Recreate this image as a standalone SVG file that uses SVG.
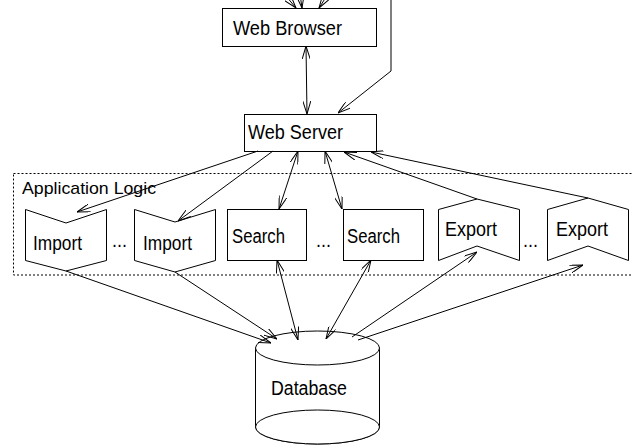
<svg xmlns="http://www.w3.org/2000/svg" width="632" height="446" viewBox="0 0 632 446">
<style>
.box{fill:#fff;stroke:#000;stroke-width:1}
.lbl{font-family:"Liberation Sans",Arial,sans-serif;font-size:20px;fill:#000}
.small{font-family:"Liberation Sans",Arial,sans-serif;font-size:17px;fill:#000}
.grp{fill:none;stroke:#000;stroke-width:1;stroke-dasharray:2,2}
.c{fill:none;stroke:#000;stroke-width:1}
</style>
<defs>
<marker id="ah" viewBox="0 0 13 8" refX="13" refY="4" markerWidth="13" markerHeight="8" markerUnits="userSpaceOnUse" orient="auto-start-reverse">
<path d="M0,0 L13,4 L0,8" fill="none" stroke="#000" stroke-width="1"/>
</marker>
</defs>
<rect width="632" height="446" fill="#fff"/>
<g id="app-logic">
<rect class="grp" x="13.5" y="173.5" width="640" height="101.5"/>
<text class="small" x="22" y="194" textLength="134" lengthAdjust="spacingAndGlyphs">Application Logic</text>
</g>
<g id="web-browser">
<rect class="box" x="222.5" y="8.5" width="154" height="38"/>
<text class="lbl" x="233" y="35" textLength="109" lengthAdjust="spacingAndGlyphs">Web Browser</text>
</g>
<g id="web-server">
<rect class="box" x="244.5" y="114.5" width="132" height="37"/>
<text class="lbl" x="248" y="139" textLength="95" lengthAdjust="spacingAndGlyphs">Web Server</text>
</g>
<g id="import1">
<path class="box" d="M25.5,209.5 L66,223 L106.5,209.5 L106.5,260.5 L66,271 L25.5,260.5 Z"/>
<text class="lbl" x="33" y="250" textLength="49" lengthAdjust="spacingAndGlyphs">Import</text>
</g>
<text class="lbl" x="112" y="247" textLength="15" lengthAdjust="spacingAndGlyphs">...</text>
<g id="import2">
<path class="box" d="M134.5,209.5 L175,222 L215.5,209.5 L215.5,260.5 L175,272 L134.5,260.5 Z"/>
<text class="lbl" x="143" y="250" textLength="49" lengthAdjust="spacingAndGlyphs">Import</text>
</g>
<g id="search1">
<rect class="box" x="227.5" y="209.5" width="79" height="51"/>
<text class="lbl" x="232" y="243" textLength="53" lengthAdjust="spacingAndGlyphs">Search</text>
</g>
<text class="lbl" x="316" y="247" textLength="15" lengthAdjust="spacingAndGlyphs">...</text>
<g id="search2">
<rect class="box" x="343.5" y="209.5" width="80" height="51"/>
<text class="lbl" x="347" y="243" textLength="53" lengthAdjust="spacingAndGlyphs">Search</text>
</g>
<g id="export1">
<path class="box" d="M438.5,209.5 L477,199 L519.5,209.5 L519.5,260.5 L477,246 L438.5,260.5 Z"/>
<text class="lbl" x="445" y="236" textLength="52" lengthAdjust="spacingAndGlyphs">Export</text>
</g>
<text class="lbl" x="523" y="247" textLength="15" lengthAdjust="spacingAndGlyphs">...</text>
<g id="export2">
<path class="box" d="M547.5,209.5 L588,198 L628.5,209.5 L628.5,260.5 L588,246 L547.5,260.5 Z"/>
<text class="lbl" x="556" y="236" textLength="52" lengthAdjust="spacingAndGlyphs">Export</text>
</g>
<g id="database">
<path class="box" d="M255.5,348 L255.5,427 A62,17 0 0,0 379.5,427 L379.5,348 Z"/>
<ellipse class="box" cx="317.5" cy="427" rx="62" ry="17"/>
<ellipse class="box" cx="317.5" cy="348" rx="62" ry="17"/>
<text class="lbl" x="271" y="395" textLength="76" lengthAdjust="spacingAndGlyphs">Database</text>
</g>
<g id="connectors">
<path class="c" d="M286,-4 L296,8" marker-end="url(#ah)"/>
<path class="c" d="M300,-6 L302,8" marker-end="url(#ah)"/>
<path class="c" d="M328,-6 L319,8" marker-end="url(#ah)"/>
<path class="c" d="M391,-2 L391,71 L338,113" marker-end="url(#ah)"/>
<path class="c" d="M306,46 L307,114" marker-start="url(#ah)" marker-end="url(#ah)"/>
<path class="c" d="M258,151 L77,212" marker-end="url(#ah)"/>
<path class="c" d="M273,151 L178,221" marker-end="url(#ah)"/>
<path class="c" d="M298,151 L279,209" marker-start="url(#ah)" marker-end="url(#ah)"/>
<path class="c" d="M325,151 L342,209" marker-start="url(#ah)" marker-end="url(#ah)"/>
<path class="c" d="M477,199 L344,152" marker-end="url(#ah)"/>
<path class="c" d="M588,198 L371,152" marker-end="url(#ah)"/>
<path class="c" d="M66,271 L271,343" marker-end="url(#ah)"/>
<path class="c" d="M175,272 L277,339" marker-end="url(#ah)"/>
<path class="c" d="M277,260 L298,340" marker-start="url(#ah)" marker-end="url(#ah)"/>
<path class="c" d="M371,260 L326,339" marker-start="url(#ah)" marker-end="url(#ah)"/>
<path class="c" d="M352,337 L477,252" marker-end="url(#ah)"/>
<path class="c" d="M358,340 L583,265" marker-end="url(#ah)"/>
</g>
</svg>
